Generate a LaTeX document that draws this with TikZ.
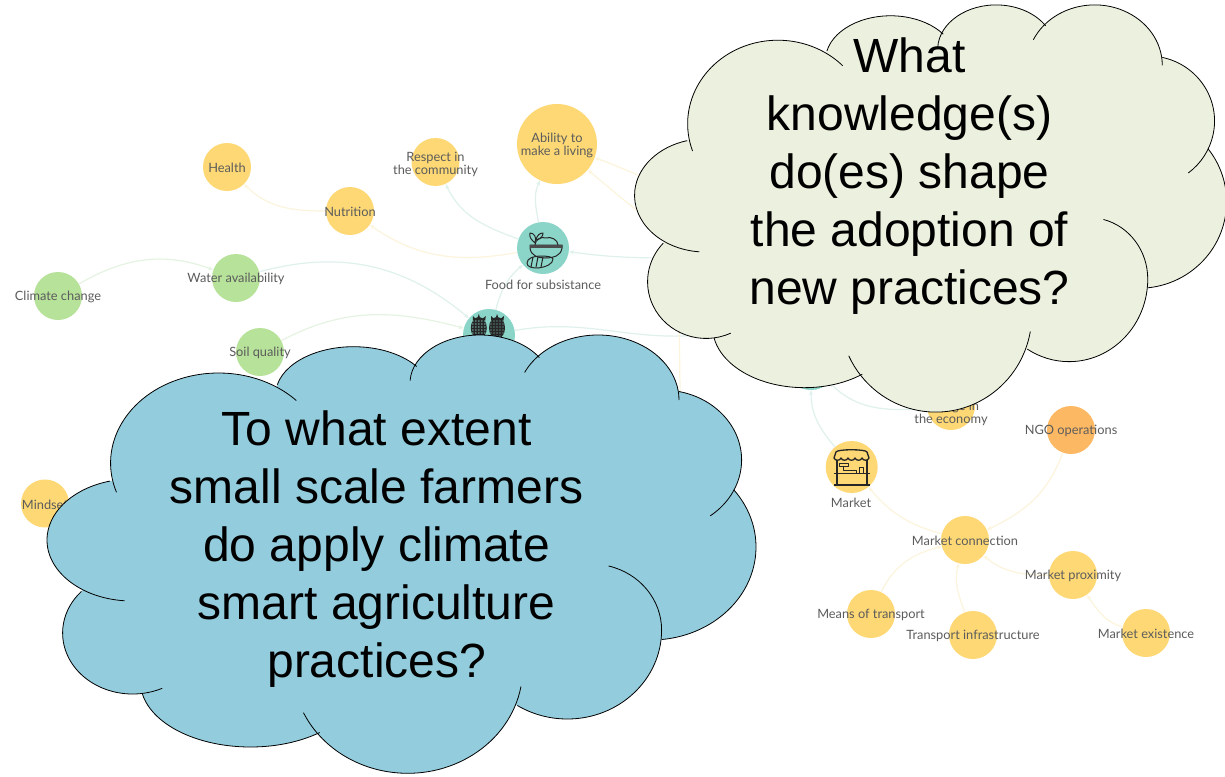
\documentclass[tikz,border=0pt]{standalone}
\usepackage{fontspec}
\setmainfont{Liberation Sans}
\newfontfamily\mapfont{Lato}
\usetikzlibrary{arrows.meta}

\definecolor{topicyellow}{HTML}{FDD874}
\definecolor{topicgreen}{HTML}{B7E29A}
\definecolor{topicteal}{HTML}{8AD4C8}
\definecolor{topicorange}{HTML}{FDB863}
\definecolor{linkyellow}{HTML}{FCF4DC}
\definecolor{linkgreen}{HTML}{E6F3E2}
\definecolor{linkteal}{HTML}{DFF1ED}
\definecolor{maptextgray}{HTML}{5C5C5C}
\definecolor{cloudblue}{HTML}{93CDDD}
\definecolor{cloudgreen}{HTML}{EBF1DE}

\tikzset{
  topic/.style={circle,inner sep=0,minimum size=48pt},
  bigtopic/.style={circle,inner sep=0,minimum size=52pt},
  maptext/.style={font=\mapfont\fontsize{12.8}{13}\selectfont,text=maptextgray,align=center,inner sep=0,yshift=-1pt},
  link/.style={-{Stealth[length=5pt,width=4pt]},line width=1.2pt},
  cloudline/.style={draw=black,line width=0.8pt},
  cloudtext/.style={font=\fontsize{48}{58}\selectfont,text=black,align=center,inner sep=0},
  icon/.style={draw=black!85,line width=1pt,line join=round}
}

% one lobe per entry: centre x, centre y, radius x, radius y, start, end
\def\cloudlobes{218.6/463/108/90/199/44, 353.6/394.7/78/48/168/36, 480/383/70/48/177/32,
  598/400/81/65/155/0, 662.6/460/79/70/78/-53, 651/547/105/93/38/-84, 591.6/630/70/66/76/0,
  567.3/630/94.3/89/0/-122, 407.7/668.3/115/105/-10/-155, 250.5/682/110/65/-51/-170,
  132.6/633/70/61/-65/-223, 132/540/85/61/-95/-255}
\newcommand{\drawcloud}[1]{
  \fill[#1] (130,-480) -- (300,-390) -- (600,-390) -- (660,-480) -- (640,-620) -- (520,-690) -- (300,-700) -- (140,-640) -- cycle;
  \foreach \cx/\cy/\rx/\ry/\sa/\ea in \cloudlobes
    \fill[#1] (\cx,-\cy) ellipse ({\rx} and {\ry});
  \foreach \cx/\cy/\rx/\ry/\sa/\ea in \cloudlobes
    \draw[cloudline] ({\cx+\rx*cos(\sa)},{-\cy+\ry*sin(\sa)}) arc (\sa:\ea:{\rx} and {\ry});
}

\begin{document}
\begin{tikzpicture}[x=1pt,y=1pt]
  \useasboundingbox (0,0) rectangle (1225,-776);
  \fill[white] (0,0) rectangle (1225,-776);

  % the map
  \node[topic,fill=topicyellow] (health) at (227,-167) {};
  \node[topic,fill=topicyellow] (nutrition) at (350,-211) {};
  \node[topic,fill=topicyellow] (respect) at (435.5,-162) {};
  \node[circle,inner sep=0,minimum size=80pt,fill=topicyellow] (ability) at (557,-144) {};
  \node[bigtopic,fill=topicteal] (food) at (543,-248) {};
  \node[topic,fill=topicgreen] (water) at (236,-278) {};
  \node[topic,fill=topicgreen] (climate) at (58,-296) {};
  \node[topic,fill=topicgreen] (soil) at (260,-352) {};
  \node[bigtopic,fill=topicteal] (berries) at (489,-335) {};
  \node[topic,fill=topicyellow] (mindset) at (45,-503.5) {};
  \node[bigtopic,fill=topicteal] (hiddenhub) at (811,-364) {};
  \node[topic,fill=topicyellow] (economy) at (951,-406) {};
  \node[topic,fill=topicorange] (ngo) at (1071,-430) {};
  \node[bigtopic,fill=topicyellow] (market) at (851.7,-467) {};
  \node[topic,fill=topicyellow] (connection) at (965,-540) {};
  \node[topic,fill=topicyellow] (proximity) at (1073,-575) {};
  \node[topic,fill=topicyellow] (means) at (871,-614) {};
  \node[topic,fill=topicyellow] (infrastructure) at (973,-635) {};
  \node[topic,fill=topicyellow] (existence) at (1146,-633) {};

  \coordinate (abilityinA) at (690,-190);
  \coordinate (abilityinB) at (690,-250);
  \coordinate (foodin) at (690,-258);
  \coordinate (berriesout) at (700,-335);
  \coordinate (downA) at (679,-325);
  \coordinate (downB) at (682,-420);

  \draw[link,linkyellow] (nutrition) to[out=180,in=-45] (health);
  \draw[link,linkyellow] (food) to[out=190,in=-35] (nutrition);
  \draw[link,linkteal] (food) to[out=160,in=-65] (respect);
  \draw[link,linkteal] (food) to[out=100,in=-115] (ability);
  \draw[link,linkyellow] (abilityinA) to[out=170,in=-20] (ability);
  \draw[link,linkyellow] (abilityinB) to[out=145,in=-40] (ability);
  \draw[link,linkteal] (foodin) to[out=180,in=-8] (food);
  \draw[link,linkteal] (berries) to[out=75,in=-140] (food);
  \draw[link,linkteal] (water) to[out=15,in=140] (berries);
  \draw[link,linkgreen] (climate) to[out=30,in=160] (water);
  \draw[link,linkgreen] (soil) to[out=28,in=165] (berries);
  \draw[linkteal,line width=1.2pt] (berries) to[out=10,in=185] (berriesout);
  \draw[linkyellow,line width=1.2pt] (downA) to[out=-88,in=95] (downB);
  \draw[link,linkteal] (market) to[out=130,in=-90] (hiddenhub);
  \draw[link,linkteal] (economy) to[out=185,in=-45] (hiddenhub);
  \draw[link,linkyellow] (connection) to[out=165,in=-50] (market);
  \draw[link,linkyellow] (ngo) to[out=-110,in=25] (connection);
  \draw[link,linkyellow] (means) to[out=65,in=195] (connection);
  \draw[link,linkyellow] (infrastructure) to[out=110,in=-105] (connection);
  \draw[link,linkyellow] (proximity) to[out=180,in=-40] (connection);
  \draw[link,linkyellow] (existence) to[out=165,in=-55] (proximity);

  \node[maptext] (healthtext) at (health) {Health};
  \node[maptext] (nutritiontext) at (nutrition) {Nutrition};
  \node[maptext] (respecttext) at (435.5,-163) {Respect in\\the community};
  \node[maptext] (abilitytext) at (557,-144) {Ability to\\make a living};
  \node[maptext] (foodtext) at (543,-284) {Food for subsistance};
  \node[maptext] (watertext) at (water) {Water availability};
  \node[maptext] (climatetext) at (climate) {Climate change};
  \node[maptext] (soiltext) at (soil) {Soil quality};
  \node[maptext] (mindsettext) at (mindset) {Mindset};
  \node[maptext] (economytext) at (951,-412.5) {Change in\\the economy};
  \node[maptext] (ngotext) at (ngo) {NGO operations};
  \node[maptext] (markettext) at (851,-502) {Market};
  \node[maptext] (connectiontext) at (connection) {Market connection};
  \node[maptext] (proximitytext) at (proximity) {Market proximity};
  \node[maptext] (meanstext) at (means) {Means of transport};
  \node[maptext] (infrastructuretext) at (infrastructure) {Transport infrastructure};
  \node[maptext] (existencetext) at (existence) {Market existence};

  % bowl
  \draw[icon] (530,-245) -- (562,-245) -- (562,-248) .. controls (561,-256) and (553,-258) .. (546,-258) .. controls (538,-258) and (531,-256) .. (530,-248) -- cycle;
  \fill[black!70] (530,-245) rectangle (562,-248);
  \draw[icon] (535,-245) .. controls (535,-240) and (541,-236) .. (546,-238) .. controls (551,-236) and (558,-240) .. (558,-245);
  \draw[icon] (535,-243) .. controls (532,-240) and (529,-238) .. (530,-233) .. controls (534,-233) and (537,-237) .. (535,-243);
  \draw[icon] (536,-240) .. controls (537,-235) and (540,-233) .. (543,-233) .. controls (543,-236) and (541,-239) .. (536,-240);
  \draw[icon] (527,-263) .. controls (527,-258) and (534,-256) .. (541,-256) .. controls (547,-256) and (553,-257) .. (553,-259) .. controls (553,-264) and (546,-267) .. (538,-268) .. controls (532,-268) and (527,-267) .. (527,-263) -- cycle;
  \foreach \gx in {533,538,543}
    \draw[icon] (\gx,-257) -- (\gx-2,-267);

  % berries
  \foreach \bx in {478.8,497}{
    \fill[black!85] (\bx,-328) ellipse (8 and 11);
    \fill[black!85] (\bx-6,-316) -- (\bx-2,-320) -- (\bx,-314) -- (\bx+2,-320) -- (\bx+7,-316) -- (\bx+6,-324) -- (\bx-6,-324) -- cycle;
    \foreach \dx in {-6,-3,0,3,6}
      \foreach \dy in {-321,-324,-327,-330,-333,-336}
        \fill[topicteal] (\bx+\dx,\dy) circle (0.7);
  }

  % stall
  \draw[icon,line width=1.3pt] (834,-458) -- (836,-452) .. controls (837,-449) and (866,-449) .. (867,-452) -- (869,-458) .. controls (868,-461) and (863,-461) .. (862,-458) .. controls (861,-461) and (856,-461) .. (855,-458) .. controls (854,-461) and (849,-461) .. (848,-458) .. controls (847,-461) and (842,-461) .. (841,-458) .. controls (840,-461) and (835,-461) .. (834,-458) -- cycle;
  \draw[icon,line width=1.3pt] (837,-460) -- (837,-473) (867,-460) -- (867,-473);
  \draw[icon,line width=1.3pt] (834,-473.5) -- (870,-473.5) (837,-474) -- (837,-484) (867,-474) -- (867,-484);
  \draw[icon,line width=1.6pt] (834,-485) -- (870,-485);
  \draw[icon] (839,-463) -- (848,-463) -- (848,-466) -- (839,-466) -- cycle (843,-466) -- (843,-470) -- (856,-470) -- (856,-473);
  \draw[icon] (859,-467) rectangle (863,-473);

  % the clouds
  \begin{scope}[xshift=595.3pt,yshift=306.3pt,xscale=.835,yscale=.929]
    \drawcloud{cloudgreen}
  \end{scope}
  \drawcloud{cloudblue}

  \node[cloudtext,anchor=base] (knowledgetext) at (909.6,-304.5) {What\\knowledge(s)\\do(es) shape\\the adoption of\\new practices?};
  \node[cloudtext,anchor=base] (extenttext) at (376.7,-677) {To what extent\\small scale farmers\\do apply climate\\smart agriculture\\practices?};
\end{tikzpicture}
\end{document}
